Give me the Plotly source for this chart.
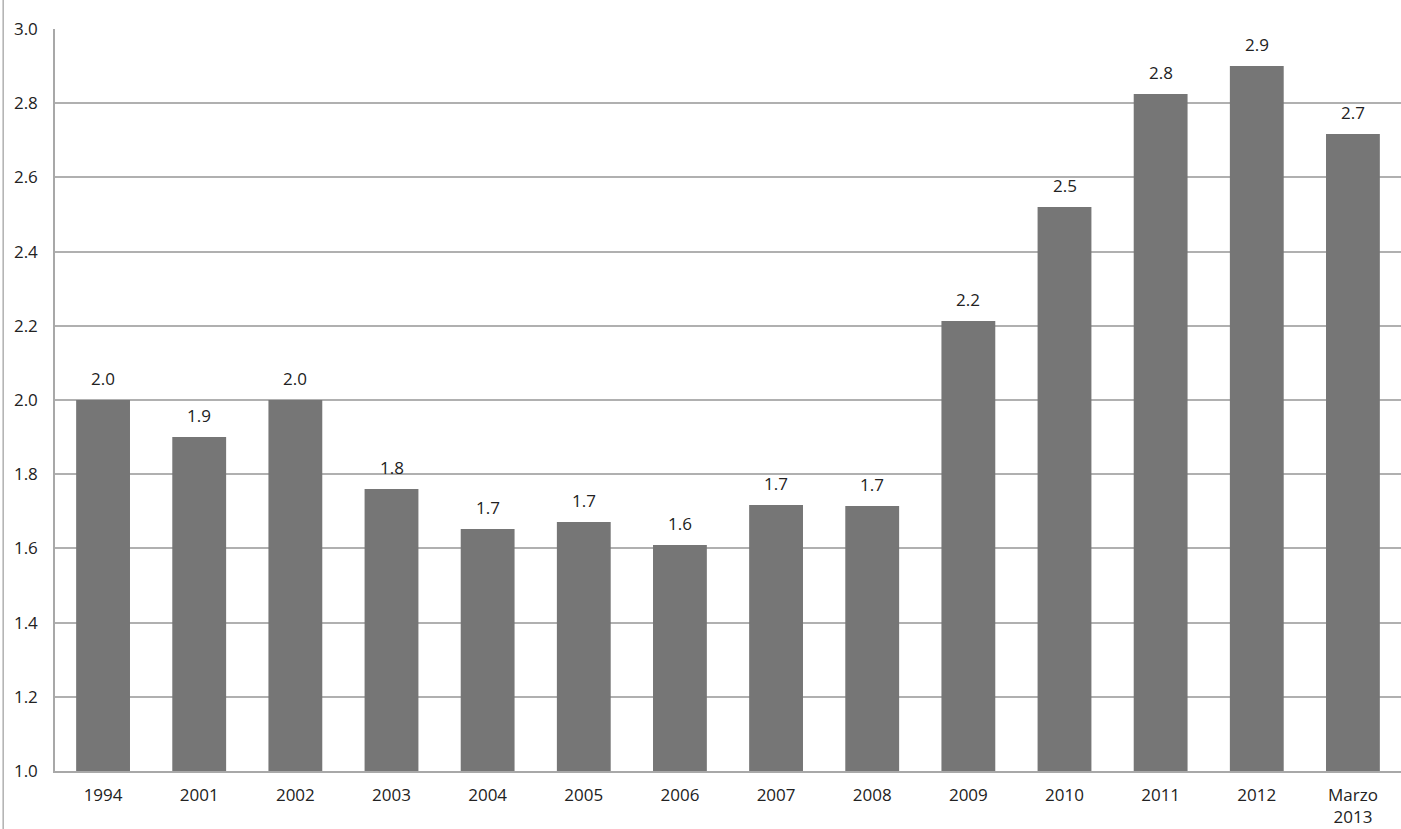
import plotly.graph_objects as go

categories = ["1994", "2001", "2002", "2003", "2004", "2005", "2006", "2007",
              "2008", "2009", "2010", "2011", "2012", "Marzo<br>2013"]
values = [2.0, 1.9, 2.0, 1.76, 1.652, 1.671, 1.609, 1.717, 1.714, 2.213,
          2.52, 2.825, 2.90, 2.717]
y_ticks = [1.0, 1.2, 1.4, 1.6, 1.8, 2.0, 2.2, 2.4, 2.6, 2.8, 3.0]

FONT = "Open Sans, DejaVu Sans, sans-serif"

fig = go.Figure()
fig.add_trace(go.Bar(
    x=categories, y=values, base=0,
    marker=dict(color="#767676", line=dict(width=0)),
    hoverinfo="x+y",
))

for i, v in enumerate(values):
    fig.add_annotation(x=i, y=v, text=f"{v:.1f}", showarrow=False,
                       xref="x", yref="y", yanchor="bottom", yshift=8,
                       font=dict(family=FONT, size=17, color="#222222"))

fig.update_layout(
    width=1401, height=829,
    margin=dict(l=55, r=0, t=29, b=58),
    plot_bgcolor="white", paper_bgcolor="white",
    bargap=0.44,
    showlegend=False,
    font=dict(family=FONT, size=17, color="#222222"),
    xaxis=dict(type="category", range=[-0.5, len(categories) - 0.5],
               categoryorder="array", categoryarray=categories,
               showgrid=False, showline=True,
               linecolor="#a8a8a8", linewidth=1.5,
               ticks="", tickfont=dict(size=17), ticklabelstandoff=8),
    yaxis=dict(range=[1.0, 3.0], tickvals=y_ticks,
               ticktext=[f"{t:.1f}" for t in y_ticks],
               showgrid=True, gridcolor="#b0b0b0", gridwidth=1.5,
               showline=True, linecolor="#a8a8a8", linewidth=1.5,
               zeroline=False, ticks="", ticklabelstandoff=12,
               tickfont=dict(size=17)),
    shapes=[dict(type="line", xref="paper", yref="paper",
                 x0=-0.0385, x1=-0.0385, y0=-0.08, y1=1.04,
                 line=dict(color="#b0b0b0", width=1.5))],
)

fig.write_html("out.html", config={"displayModeBar": False},
               post_script="document.body.style.margin='0';")
